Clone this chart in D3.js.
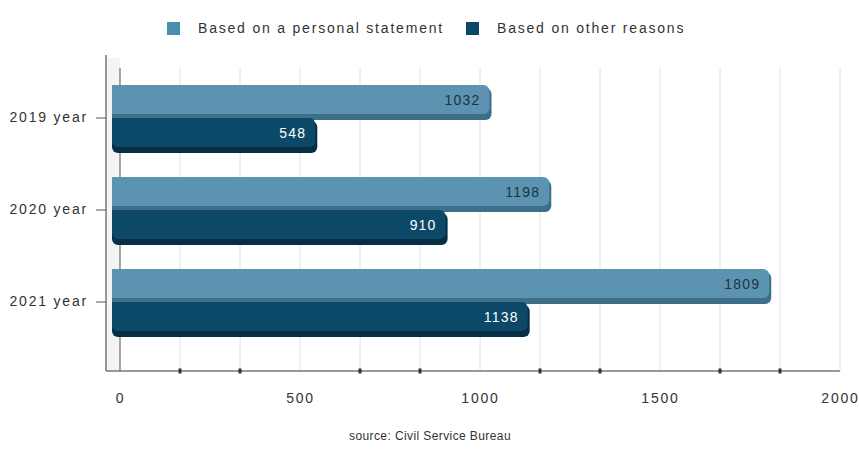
<!DOCTYPE html>
<html><head><meta charset="utf-8">
<script src="https://cdn.jsdelivr.net/npm/d3@7"></script>
<style>body{margin:0;background:#fff;} text{font-family:"Liberation Sans",Arial,sans-serif;}</style>
</head><body>
<svg id="c" width="859" height="453"></svg>
<script>
const categories = ["2019 year", "2020 year", "2021 year"];
const seriesNames = ["Based on a personal statement", "Based on other reasons"];
const personal = [1032, 1198, 1809];
const other = [548, 910, 1138];
const tickLabels = [0, 500, 1000, 1500, 2000];
const sourceText = "source: Civil Service Bureau";

const colors = ["#5b93b1", "#0c4868"];
const shade = ["#3f6f88", "#062f46"];
const labelColors = ["#1d3340", "#ffffff"];
const LS = "1.8px";

const svg = d3.select("#c");
const x = d3.scaleLinear().domain([0, 2000]).range([120, 840]);
const y = d3.scaleBand().domain(categories).range([72, 348]).paddingInner(0.283).paddingOuter(0.1415);
const plotTop = 68, plotBottom = 371, wallX = 106;

// left wall
svg.append("rect").attr("x", wallX).attr("y", plotTop - 10).attr("width", x(0) - wallX).attr("height", plotBottom - plotTop + 10).attr("fill", "#f4f4f4");

// grid
const gridVals = d3.range(0, 2000.01, 500 / 3);
svg.append("g").selectAll("line").data(gridVals).join("line")
  .attr("x1", d => x(d)).attr("x2", d => x(d))
  .attr("y1", plotTop).attr("y2", plotBottom)
  .attr("stroke", (d, i) => i === 0 ? "#888" : "#e2e2e2").attr("stroke-width", (d, i) => i === 0 ? 1.5 : 1);

// axes lines
svg.append("line").attr("x1", wallX).attr("x2", wallX).attr("y1", 55).attr("y2", plotBottom).attr("stroke", "#777").attr("stroke-width", 1.5);
svg.append("line").attr("x1", wallX).attr("x2", x(2000)).attr("y1", plotBottom).attr("y2", plotBottom).attr("stroke", "#777").attr("stroke-width", 1.5);

// minor tick marks on bottom axis
svg.append("g").selectAll("rect").data(gridVals.filter((d, i) => i % 3 !== 0)).join("rect")
  .attr("x", d => x(d) - 1.5).attr("y", plotBottom - 2.5).attr("width", 3).attr("height", 5).attr("fill", "#333");

// x tick labels
const xAxis = d3.axisBottom(x).tickValues(tickLabels).tickSize(0).tickPadding(0).tickFormat(d3.format("d"));
const gx = svg.append("g").attr("transform", `translate(0,${plotBottom + 22})`).call(xAxis);
gx.select(".domain").remove();
gx.selectAll("text").attr("font-size", 14).attr("fill", "#333").attr("letter-spacing", LS).attr("font-family", "Liberation Sans, Arial, sans-serif");

// y axis labels and ticks
const yAxis = d3.axisLeft(y).tickSize(10).tickPadding(8);
const gy = svg.append("g").attr("transform", `translate(${wallX},0)`).call(yAxis);
gy.select(".domain").remove();
gy.selectAll("line").attr("stroke", "#555");
gy.selectAll("text").attr("font-size", 14).attr("fill", "#333").attr("letter-spacing", LS).attr("font-family", "Liberation Sans, Arial, sans-serif");

// bars
function barPath(x0, x1, y0, h, r, roundLeftBottom) {
  const p = d3.path();
  p.moveTo(x0, y0);
  p.lineTo(x1 - r, y0);
  p.arcTo(x1, y0, x1, y0 + r, r);
  p.lineTo(x1, y0 + h - r);
  p.arcTo(x1, y0 + h, x1 - r, y0 + h, r);
  if (roundLeftBottom) {
    p.lineTo(x0 + r, y0 + h);
    p.arcTo(x0, y0 + h, x0, y0 + h - r, r);
  } else {
    p.lineTo(x0, y0 + h);
  }
  p.closePath();
  return p.toString();
}
const bh = y.bandwidth() / 2;
const xStart = 112;
const series = [personal, other];
series.forEach((vals, s) => {
  const g = svg.append("g");
  const data = categories.map((c, i) => ({c, v: vals[i]}));
  g.selectAll("path.sh").data(data).join("path").attr("class", "sh")
    .attr("d", d => barPath(xStart, x(d.v), y(d.c) + s * bh + 3, bh - 1, 6, s === 1))
    .attr("fill", shade[s]);
  g.selectAll("path.face").data(data).join("path").attr("class", "face")
    .attr("d", d => barPath(xStart, x(d.v) - 2, y(d.c) + s * bh, bh - 4, 6, s === 1))
    .attr("fill", colors[s]);
  g.selectAll("text").data(data).join("text")
    .attr("x", d => x(d.v) - 11).attr("y", d => y(d.c) + s * bh + bh / 2)
    .attr("text-anchor", "end").attr("dominant-baseline", "middle")
    .attr("font-size", 14).attr("letter-spacing", "1.2px").attr("fill", labelColors[s])
    .text(d => d.v);
});

// legend
const legend = svg.append("g");
const legX = [167, 466];
seriesNames.forEach((n, i) => {
  legend.append("rect").attr("x", legX[i]).attr("y", 22).attr("width", 13).attr("height", 13).attr("fill", i === 0 ? "#4a8fb0" : "#0a4668");
  legend.append("text").attr("x", legX[i] + 31).attr("y", 29).attr("dominant-baseline", "middle")
    .attr("font-size", 14).attr("letter-spacing", LS).attr("fill", "#333").text(n);
});

// source
svg.append("text").attr("x", 430).attr("y", 437).attr("text-anchor", "middle").attr("dominant-baseline", "middle")
  .attr("font-size", 12).attr("letter-spacing", "0.4px").attr("fill", "#333").text(sourceText);
</script>
</body></html>
